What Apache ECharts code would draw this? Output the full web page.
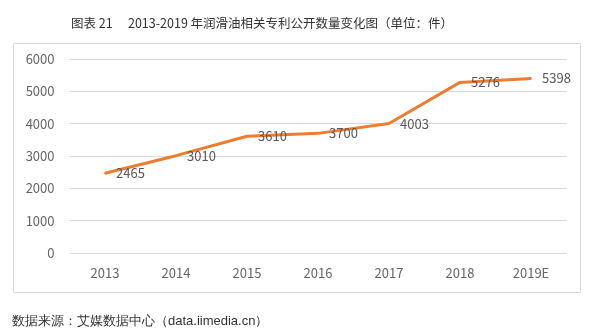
<!DOCTYPE html>
<html><head><meta charset="utf-8">
<script src="https://cdn.jsdelivr.net/npm/echarts@6/dist/echarts.min.js"></script>
<style>html,body{margin:0;padding:0;background:#fff}#c{width:599px;height:334px}</style>
</head><body><div id="c"></div>
<script>
const categories = ['2013','2014','2015','2016','2017','2018','2019E'];
const values = [2465, 3010, 3610, 3700, 4003, 5276, 5398];
const titleText = '图表 21\u3000 2013-2019 年润滑油相关专利公开数量变化图（单位：件）';
const sourceText = '数据来源：艾媒数据中心（data.iimedia.cn）';
const font = '"Noto Sans CJK SC", "Noto Sans", sans-serif';
const chart = echarts.init(document.getElementById('c'));
chart.setOption({
  animation: false,
  backgroundColor: '#fff',
  textStyle: { fontFamily: font },
  title: {
    text: titleText, left: 66, top: 12,
    textStyle: { fontSize: 12.5, fontWeight: 'normal', color: '#333', fontFamily: font }
  },
  graphic: [
    { type: 'rect', shape: { x: 13.5, y: 43.5, width: 567, height: 249 },
      style: { fill: 'none', stroke: '#d9d9d9', lineWidth: 1 }, silent: true },
    { type: 'text', left: 12, top: 315,
      style: { text: sourceText, fontSize: 13, fill: '#333', font: '13px ' + font } }
  ],
  grid: { left: 69.5, right: 32.5, top: 59, bottom: 81 },
  xAxis: {
    type: 'category', data: categories, boundaryGap: true,
    axisLine: { show: false }, axisTick: { show: false },
    axisLabel: { color: '#666', fontSize: 13, margin: 14, fontFamily: font }
  },
  yAxis: {
    type: 'value', min: 0, max: 6000, interval: 1000,
    axisLine: { show: false }, axisTick: { show: false },
    axisLabel: { color: '#666', fontSize: 13, margin: 15, fontFamily: font, formatter: v => String(v) },
    splitLine: { lineStyle: { color: '#d9d9d9', width: 1 } }
  },
  series: [{
    type: 'line', data: values, symbol: 'circle', symbolSize: 2, showSymbol: true,
    itemStyle: { color: '#ED7D31' },
    lineStyle: { color: '#ED7D31', width: 3 },
    label: { show: true, position: 'right', distance: 10, color: '#595959', fontSize: 13, fontFamily: font, opacity: 1 }
  }]
});
</script></body></html>
